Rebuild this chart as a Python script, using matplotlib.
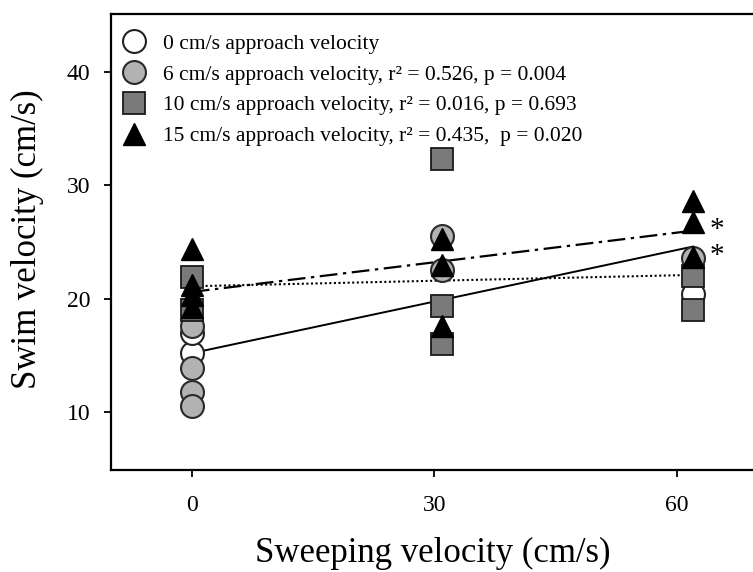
import numpy as np
import matplotlib
matplotlib.use("Agg")
import matplotlib.pyplot as plt
from matplotlib.lines import Line2D

plt.rcParams['font.family'] = ['Liberation Serif', 'DejaVu Serif']

# sweeping velocity levels used for each group of points
# 0 cm/s approach velocity (white circles)
x_app0 = [0, 0, 62]
y_app0 = [15.2, 17.0, 20.4]
# 6 cm/s approach velocity (light grey circles)
x_app6 = [0, 0, 0, 0, 31, 31, 62]
y_app6 = [17.6, 13.9, 11.8, 10.5, 25.5, 22.5, 23.6]
# 10 cm/s approach velocity (dark grey squares)
x_app10 = [0, 0, 31, 31, 31, 62, 62]
y_app10 = [21.9, 19.0, 32.3, 19.4, 16.0, 22.0, 19.0]
# 15 cm/s approach velocity (black triangles)
x_app15 = [0, 0, 0, 0, 31, 31, 31, 62, 62, 62]
y_app15 = [24.4, 21.2, 20.3, 19.3, 25.3, 23.0, 17.6, 28.6, 26.8, 23.7]

# regression lines, values read at the ends
fit_x = [0, 62]
fit6 = [15.2, 24.6]
fit10 = [21.1, 22.1]
fit15 = [20.6, 26.0]

# significance stars
star_x = [65, 65]
star_y = [26.1, 23.8]

labels = ['0 cm/s approach velocity',
          '6 cm/s approach velocity, r\u00b2 = 0.526, p = 0.004',
          '10 cm/s approach velocity, r\u00b2 = 0.016, p = 0.693',
          '15 cm/s approach velocity, r\u00b2 = 0.435,  p = 0.020']

fig = plt.figure(figsize=(7.53, 5.72), dpi=100)
ax = fig.add_axes([0.1474, 0.1783, 0.8802, 0.7972])

ax.plot(fit_x, fit6, color='black', lw=1.4, ls='-', zorder=1)
ax.plot(fit_x, fit10, color='black', lw=1.5, ls=(0, (1, 1.2)), zorder=1)
ax.plot(fit_x, fit15, color='black', lw=1.6, ls=(0, (8, 2.5, 1.5, 2.5)), zorder=1)

ms = 16.5
ax.plot(x_app0, y_app0, 'o', ms=ms, mfc='white', mec='#222222', mew=1.5, ls='none', zorder=2)
ax.plot(x_app6, y_app6, 'o', ms=ms, mfc='#b2b2b2', mec='#2a2a2a', mew=1.5, ls='none', zorder=3)
ax.plot(x_app10, y_app10, 's', ms=ms - 1, mfc='#7a7a7a', mec='#1a1a1a', mew=1.3, ls='none', zorder=4)
ax.plot(x_app15, y_app15, '^', ms=ms, mfc='black', mec='black', mew=1, ls='none', zorder=5)

for sx, sy in zip(star_x, star_y):
    ax.text(sx, sy, '*', fontsize=21, ha='center', va='center', zorder=6)

ax.set_xlim(-10, 72)
ax.set_ylim(4.9, 45.1)
ax.set_xticks([0, 30, 60])
ax.set_yticks([10, 20, 30, 40])

for s in ax.spines.values():
    s.set_linewidth(1.6)
ax.tick_params(axis='both', direction='out', length=5, width=1.3, labelsize=17)
ax.tick_params(axis='y', pad=10)
ax.tick_params(axis='x', pad=13)

ax.set_xlabel('Sweeping velocity (cm/s)', fontsize=25)
ax.set_ylabel('Swim velocity (cm/s)', fontsize=25)
ax.xaxis.set_label_coords(0.486, -0.182)
ax.xaxis.label.set_va('center')
ax.yaxis.set_label_coords(-0.1267, 0.507)
ax.yaxis.label.set_va('center')

handles = [
    Line2D([], [], marker='o', ls='none', ms=ms, mfc='white', mec='#222222', mew=1.5),
    Line2D([], [], marker='o', ls='none', ms=ms, mfc='#b2b2b2', mec='#2a2a2a', mew=1.5),
    Line2D([], [], marker='s', ls='none', ms=ms - 1, mfc='#7a7a7a', mec='#1a1a1a', mew=1.3),
    Line2D([], [], marker='^', ls='none', ms=ms, mfc='black', mec='black'),
]
ax.legend(handles, labels, loc='upper left', bbox_to_anchor=(-0.008, 0.99),
          frameon=False, fontsize=15.5, labelspacing=0.5, handletextpad=0.75,
          borderaxespad=0.3, handlelength=1.2)

fig.savefig('out.png', dpi=100)
